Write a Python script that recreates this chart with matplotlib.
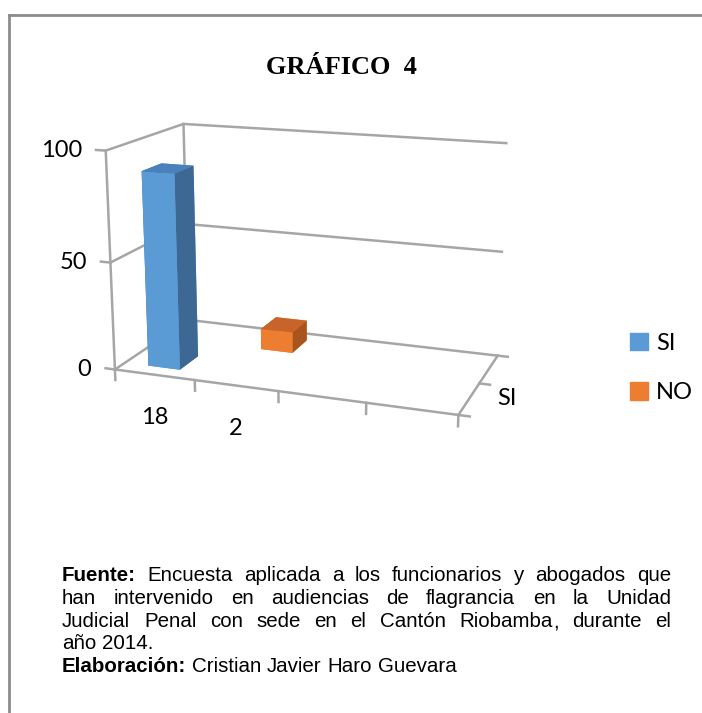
import matplotlib
matplotlib.use('Agg')
import matplotlib.pyplot as plt
from matplotlib import font_manager
from matplotlib.patches import Patch
from matplotlib.lines import Line2D
from matplotlib.transforms import offset_copy

# datos del grafico
categorias = ['18', '2', '', '']
series = ['SI', 'NO']
valores = [90, 10]          # SI en la categoria "18", NO en la categoria "2"
ticks_z = [0, 50, 100]

titulo = 'GRÁFICO  4'
fuente = [
    [('Fuente:', True), ('Encuesta aplicada a los funcionarios y abogados que', False)],
    [('han intervenido en audiencias de flagrancia en la Unidad', False)],
    [('Judicial Penal con sede en el Cantón Riobamba, durante el', False)],
    [('año 2014.', False)],
    [('Elaboración:', True), ('Cristian Javier Haro Guevara', False)],
]
justificadas = [True, True, True, False, False]

# colores (frente, arriba, lado)
col_barras = [('#5b9bd5', '#4a80bb', '#3d6893'),
              ('#ed7d31', '#c8642a', '#a9541d')]
gris = '#a6a6a6'

W, H = 702, 713
fig = plt.figure(figsize=(W / 100, H / 100), dpi=100)

# marco
fig.add_artist(Line2D([9 / W, 9 / W], [0, 1 - 15 / H], color='#8c8c8c', lw=2))
fig.add_artist(Line2D([9 / W, 1], [1 - 15 / H, 1 - 15 / H], color='#8c8c8c', lw=2))

fig.text(341 / W, 1 - 68 / H, titulo, family='Liberation Serif', weight='bold',
         fontsize=19, ha='center', va='center')

ax = fig.add_axes([0.043, 0.357, 0.78, 0.55], projection='3d', computed_zorder=False)
ax.set_proj_type('persp', focal_length=0.6)
ax.view_init(elev=15, azim=-70)
nx = len(categorias)
ny = len(series)
ax.set_xlim(0, nx)
ax.set_ylim(0, ny)
ax.set_zlim(0, 100)
ax.set_box_aspect((0.735, 0.36, 0.464), zoom=1.12)
ax.set_axis_off()

kw = dict(color=gris, lw=1.8, zorder=1, clip_on=False)
# paredes y lineas de division
for z in ticks_z:
    ax.plot([0, 0, nx], [0, ny, ny], [z, z, z], **kw)
ax.plot([0, 0], [0, 0], [0, 100], **kw)
ax.plot([0, 0], [ny, ny], [0, 100], **kw)
ax.plot([0, nx, nx], [0, 0, ny], [0, 0, 0], **kw)
# marcas
for z in ticks_z:
    ax.plot([-0.12, 0], [0, 0], [z, z], **kw)
for i in range(nx + 1):
    ax.plot([i, i], [0, 0], [0, -5], **kw)
for j in range(ny + 1):
    ax.plot([nx, nx + 0.12], [j, j], [0, 0], **kw)

fnt = 'Lato'
for z in ticks_z:
    ax.text(0, 0, z, str(z), ha='right', va='center', fontsize=17, family=fnt,
            transform=offset_copy(ax.transData, fig, x=-17, y=0, units='points'))
for i, c in enumerate(categorias):
    if c:
        ax.text(i + 0.5, 0, 0, c, ha='center', va='center', fontsize=17, family=fnt,
                transform=offset_copy(ax.transData, fig, x=0, y=-31, units='points'))
ax.text(nx, 0.5, 0, series[0], ha='center', va='center', fontsize=17, family=fnt,
        transform=offset_copy(ax.transData, fig, x=27, y=0, units='points'))

# barras
for k, (s, v) in enumerate(zip(series, valores)):
    fr, ar, la = col_barras[k]
    ax.bar3d(k + 0.3, k + 0.25, 0, 0.4, 0.5, v, color=[fr, ar, fr, fr, la, la],
             shade=False, zorder=3 - k)

handles = [Patch(color=col_barras[k][0]) for k in range(len(series))]
fig.legend(handles, series, loc='center left', bbox_to_anchor=(630 / W, 1 - 368 / H),
           frameon=False, prop={'family': fnt, 'size': 17}, handlelength=0.75,
           handleheight=0.75, labelspacing=1.2, handletextpad=0.35, borderpad=0,
           borderaxespad=0)

# nota al pie justificada
nombres = {f.name for f in font_manager.fontManager.ttflist}
fam = 'Liberation Sans Narrow' if 'Liberation Sans Narrow' in nombres else 'Liberation Sans'
renderer = fig.canvas.get_renderer()
fs = 14.8
x0, x1 = 62, 671
y_lin = [581, 604, 627, 649, 672]


def palabra(w, b, yb):
    return fig.text(x0 / W, 1 - yb / H, w, family=fam, fontsize=fs, va='baseline',
                    weight='bold' if b else 'normal')


for partes, just, yb in zip(fuente, justificadas, y_lin):
    palabras = [(w, b) for txt, b in partes for w in txt.split()]
    grupos = []
    for w, b in palabras:
        # la coma se dibuja aparte para que no baje la palabra
        if w.endswith(',') and len(w) > 1:
            grupos.append([palabra(w[:-1], b, yb), palabra(',', b, yb)])
        else:
            grupos.append([palabra(w, b, yb)])
    anchos = [sum(a.get_window_extent(renderer).width for a in g) for g in grupos]
    if just:
        esp = (x1 - x0 - sum(anchos)) / (len(grupos) - 1)
    else:
        esp = fs * 0.278 * 100 / 72
    x = x0
    for g, w in zip(grupos, anchos):
        xx = x
        for a in g:
            a.set_x(round(xx) / W)
            xx += a.get_window_extent(renderer).width
        x += w + esp

fig.savefig('out.png', dpi=100)
